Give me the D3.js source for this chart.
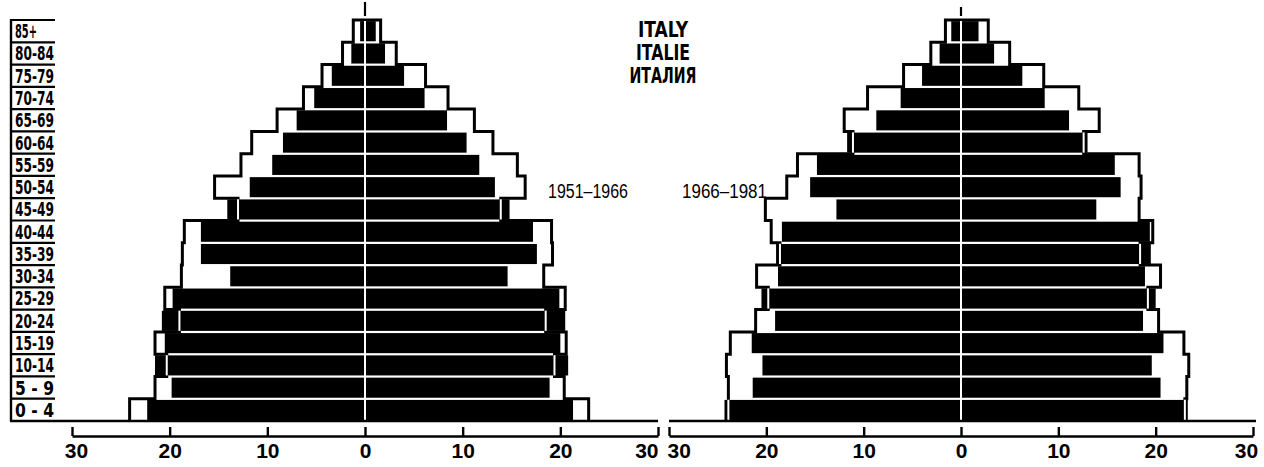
<!DOCTYPE html>
<html><head><meta charset="utf-8">
<script src="https://cdn.jsdelivr.net/npm/d3@7"></script>
<style>body{margin:0;background:#fff}svg{display:block}</style>
</head><body>
<svg id="c" width="1264" height="467"></svg>
<script>
// ---------- data (bottom age group first) ----------
const ageGroups = ["0 - 4","5 - 9","10-14","15-19","20-24","25-29","30-34","35-39","40-44","45-49","50-54","55-59","60-64","65-69","70-74","75-79","80-84","85+"];
const tickValues = [-30,-20,-10,0,10,20,30];
const titleLines = ["ITALY","ITALIE","ИТАЛИЯ"];
const periodLabels = ["1951–1966","1966–1981"];

// Panel 1951-1966 : solid = 1951, outline = 1966
const p1LeftSolid    = [22.3,19.8,21.5,20.5,20.8,19.7,13.8,16.8,16.8,14.1,11.8,9.5,8.4,7.0,5.2,3.4,1.4,0.5];
const p1LeftOutline  = [24.1,21.5,20.3,21.5,19.0,20.5,18.8,18.7,18.5,13.0,15.4,12.7,11.6,9.0,6.3,4.4,2.3,1.2];
const p1RightSolid   = [21.3,18.9,20.8,20.0,20.5,19.9,14.6,17.6,17.2,14.8,13.3,11.7,10.4,8.4,6.1,4.0,2.05,1.1];
const p1RightOutline = [22.9,20.4,19.4,20.6,18.5,20.5,18.3,19.2,19.1,13.9,16.4,15.6,13.1,11.2,8.5,6.2,3.2,1.6];

// Panel 1966-1981 : solid = 1966, outline = 1981
const p2LeftSolid    = [24.3,21.4,20.4,21.5,19.1,20.5,18.8,19.0,18.4,12.8,15.5,14.8,11.7,8.7,6.2,4.0,2.2,1.0];
const p2LeftOutline  = [23.9,23.9,24.1,23.7,21.1,19.8,21.0,18.6,19.5,20.1,17.9,16.8,11.1,12.0,9.6,5.9,3.1,1.6];
const p2RightSolid   = [23.3,20.5,19.6,20.8,18.7,20.0,18.9,19.5,19.4,13.9,16.4,15.8,13.0,11.1,8.6,6.3,3.4,1.8];
const p2RightOutline = [23.0,23.2,23.4,22.9,20.3,19.2,20.5,18.4,19.7,18.3,18.5,18.3,12.6,14.2,12.1,8.5,5.0,2.8];

// ---------- drawing ----------
const svg = d3.select("#c");
const TOP = 20, BASE = 421;
const y = d3.scaleBand().domain(ageGroups).range([BASE, TOP]);
const bw = y.bandwidth();

const panels = [
  {range:[72,658], lS:p1LeftSolid, lO:p1LeftOutline, rS:p1RightSolid, rO:p1RightOutline, base:[10,658], capTop:2, label:periodLabels[0], lx:548, lw:80},
  {range:[669,1253], lS:p2LeftSolid, lO:p2LeftOutline, rS:p2RightSolid, rO:p2RightOutline, base:[669,1256], capTop:7, label:periodLabels[1], lx:682, lw:85}
];

panels.forEach((p, pi) => {
  const x = d3.scaleLinear().domain([-30,30]).range(p.range);
  const g = svg.append("g");

  // stepped outlines
  [[-1,p.lO],[1,p.rO]].forEach(([s,arr]) => {
    const pts = [[0, TOP]];
    for (let i = ageGroups.length-1; i >= 0; i--) {
      pts.push([s*arr[i], y(ageGroups[i])]);
      pts.push([s*arr[i], y(ageGroups[i]) + bw]);
    }
    g.append("path")
      .attr("d", d3.line().x(d => x(d[0])).y(d => d[1])(pts))
      .attr("fill","none").attr("stroke","#000").attr("stroke-width",3)
      .attr("stroke-linejoin","miter");
  });

  // solid bars
  [[-1,p.lS],[1,p.rS]].forEach(([s,arr]) => {
    g.selectAll(null).data(ageGroups).enter().append("rect")
      .attr("x", (d,i) => s < 0 ? x(-arr[i]) : x(0))
      .attr("width", (d,i) => Math.abs(x(arr[i]) - x(0)))
      .attr("y", d => y(d) + 1.2)
      .attr("height", bw - 2.2)
      .attr("fill","#000");
  });

  // outline segments lying inside the solid bars -> white strokes
  [[-1,p.lS,p.lO],[1,p.rS,p.rO]].forEach(([s,sol,out]) => {
    g.selectAll(null).data(ageGroups.filter((d,i) => out[i] < sol[i])).enter().append("line")
      .attr("x1", d => x(s*out[ageGroups.indexOf(d)]))
      .attr("x2", d => x(s*out[ageGroups.indexOf(d)]))
      .attr("y1", d => y(d) + 1)
      .attr("y2", d => y(d) + bw - 1)
      .attr("stroke","#fff").attr("stroke-width",2);
  });

  // centre line
  g.append("line").attr("x1",x(0)).attr("x2",x(0)).attr("y1",TOP+1).attr("y2",BASE)
    .attr("stroke","#fff").attr("stroke-width",2);
  g.append("line").attr("x1",x(0)).attr("x2",x(0)).attr("y1",p.capTop).attr("y2",TOP-4)
    .attr("stroke","#000").attr("stroke-width",2.2);

  // base line
  g.append("line").attr("x1",p.base[0]).attr("x2",p.base[1]).attr("y1",BASE).attr("y2",BASE)
    .attr("stroke","#000").attr("stroke-width",2.6);

  // axis
  const ax = svg.append("g").attr("transform",`translate(0,436)`)
    .call(d3.axisBottom(x).tickValues(tickValues).tickFormat(d => Math.abs(d)).tickSizeInner(-9).tickSizeOuter(0).tickPadding(6));
  ax.select(".domain").attr("stroke","#000").attr("stroke-width",2.6);
  ax.selectAll(".tick line").attr("stroke","#000").attr("stroke-width",2.4);
  ax.selectAll(".tick text").attr("dy",null).attr("y",22)
    .attr("font-family","'Liberation Sans', Arial, sans-serif").attr("font-weight","bold")
    .attr("font-size",21).attr("fill","#000");
  const texts = ax.selectAll(".tick text").nodes();
  if (pi === 0) {
    d3.select(texts[0]).attr("x",4);
    d3.select(texts[texts.length-1]).attr("text-anchor","end").attr("x",0);
  } else {
    d3.select(texts[0]).attr("text-anchor","start").attr("x",-2);
    d3.select(texts[texts.length-1]).attr("x",-7);
  }

  // period label
  svg.append("text").attr("x",p.lx).attr("y",198).text(p.label)
    .attr("font-family","'Liberation Sans', Arial, sans-serif").attr("font-size",20)
    .attr("textLength",p.lw).attr("lengthAdjust","spacingAndGlyphs").attr("fill","#000");
});

// age label column
const lab = svg.append("g");
lab.append("line").attr("x1",11).attr("x2",11).attr("y1",TOP-1).attr("y2",BASE).attr("stroke","#000").attr("stroke-width",2.4);
lab.selectAll(null).data(ageGroups).enter().append("line")
  .attr("x1",10).attr("x2",55).attr("y1",d => y(d)).attr("y2",d => y(d))
  .attr("stroke","#000").attr("stroke-width",2.2);
lab.selectAll(null).data(ageGroups).enter().append("text")
  .attr("x",15).attr("y",d => y(d) + bw/2 + 7).text(d => d)
  .attr("font-family","'DejaVu Sans Condensed','DejaVu Sans',sans-serif").attr("font-weight","bold")
  .attr("font-size",19)
  .attr("textLength",d => d.length >= 5 ? 39 : 22).attr("lengthAdjust","spacingAndGlyphs")
  .attr("fill","#000");

// title
const titleW = [50,54,67];
svg.selectAll(null).data(titleLines).enter().append("text")
  .attr("x",663).attr("y",(d,i) => 37 + i*23).attr("text-anchor","middle").text(d => d)
  .attr("font-family","'DejaVu Sans Condensed','DejaVu Sans',sans-serif").attr("font-weight","bold")
  .attr("font-size",22)
  .attr("textLength",(d,i) => titleW[i]).attr("lengthAdjust","spacingAndGlyphs")
  .attr("fill","#000");
</script>
</body></html>
